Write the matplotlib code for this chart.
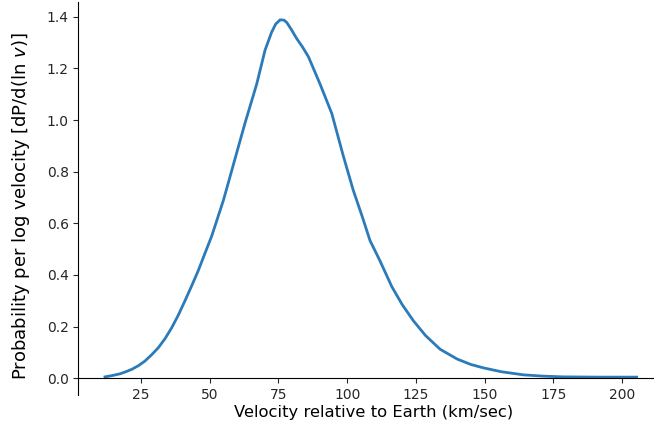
import matplotlib.pyplot as plt
import numpy as np

# velocity (km/sec) and probability density per log velocity
velocity = [11.9, 14.5, 17.4, 19.5, 21.6, 24.0, 26.4, 28.8, 31.3, 33.8, 36.2,
            38.6, 41.0, 43.4, 45.8, 48.2, 50.7, 55.0, 59.2, 62.8, 67.1, 70.1,
            72.5, 74.0, 75.6, 77.0, 78.0, 79.6, 81.6, 83.8, 85.9, 90.1, 94.4,
            98.6, 102.2, 105.5, 108.3, 111.9, 116.2, 120.0, 124.1, 128.5,
            133.8, 140.0, 145.0, 149.5, 156.0, 164.0, 171.0, 178.6, 192.0,
            205.3]
dens = [0.005, 0.010, 0.017, 0.025, 0.034, 0.048, 0.066, 0.090, 0.118, 0.154,
        0.196, 0.245, 0.300, 0.357, 0.416, 0.482, 0.550, 0.690, 0.850, 0.987,
        1.140, 1.270, 1.340, 1.372, 1.388, 1.387, 1.378, 1.352, 1.316, 1.282,
        1.245, 1.140, 1.025, 0.860, 0.728, 0.625, 0.533, 0.455, 0.355, 0.285,
        0.222, 0.165, 0.112, 0.074, 0.053, 0.040, 0.025, 0.013, 0.008, 0.005,
        0.004, 0.004]

fig = plt.figure(figsize=(6.54, 4.26), dpi=100)
ax = fig.add_axes([78.4 / 654, 31 / 426, (663.3 - 78.4) / 654, (424 - 31) / 426])

ax.plot(velocity, dens, color='#2b7bba', lw=2)

ax.spines['right'].set_visible(False)
ax.spines['top'].set_visible(False)
ax.spines['bottom'].set_position(('data', 0))
ax.set_xticks([25, 50, 75, 100, 125, 150, 175, 200])
ax.set_yticks(np.arange(0, 1.41, 0.2))
ax.tick_params(labelsize=10, colors='#262626')

ax.set_xlabel('Velocity relative to Earth (km/sec)', fontsize=11.8)
ax.set_ylabel(r'Probability per log velocity [dP/d(ln $v$)]', fontsize=13)
ax.xaxis.set_label_coords(0.505, -0.026)
ax.yaxis.set_label_coords(-0.079, 0.48)

fig.savefig('out.png', dpi=100)
